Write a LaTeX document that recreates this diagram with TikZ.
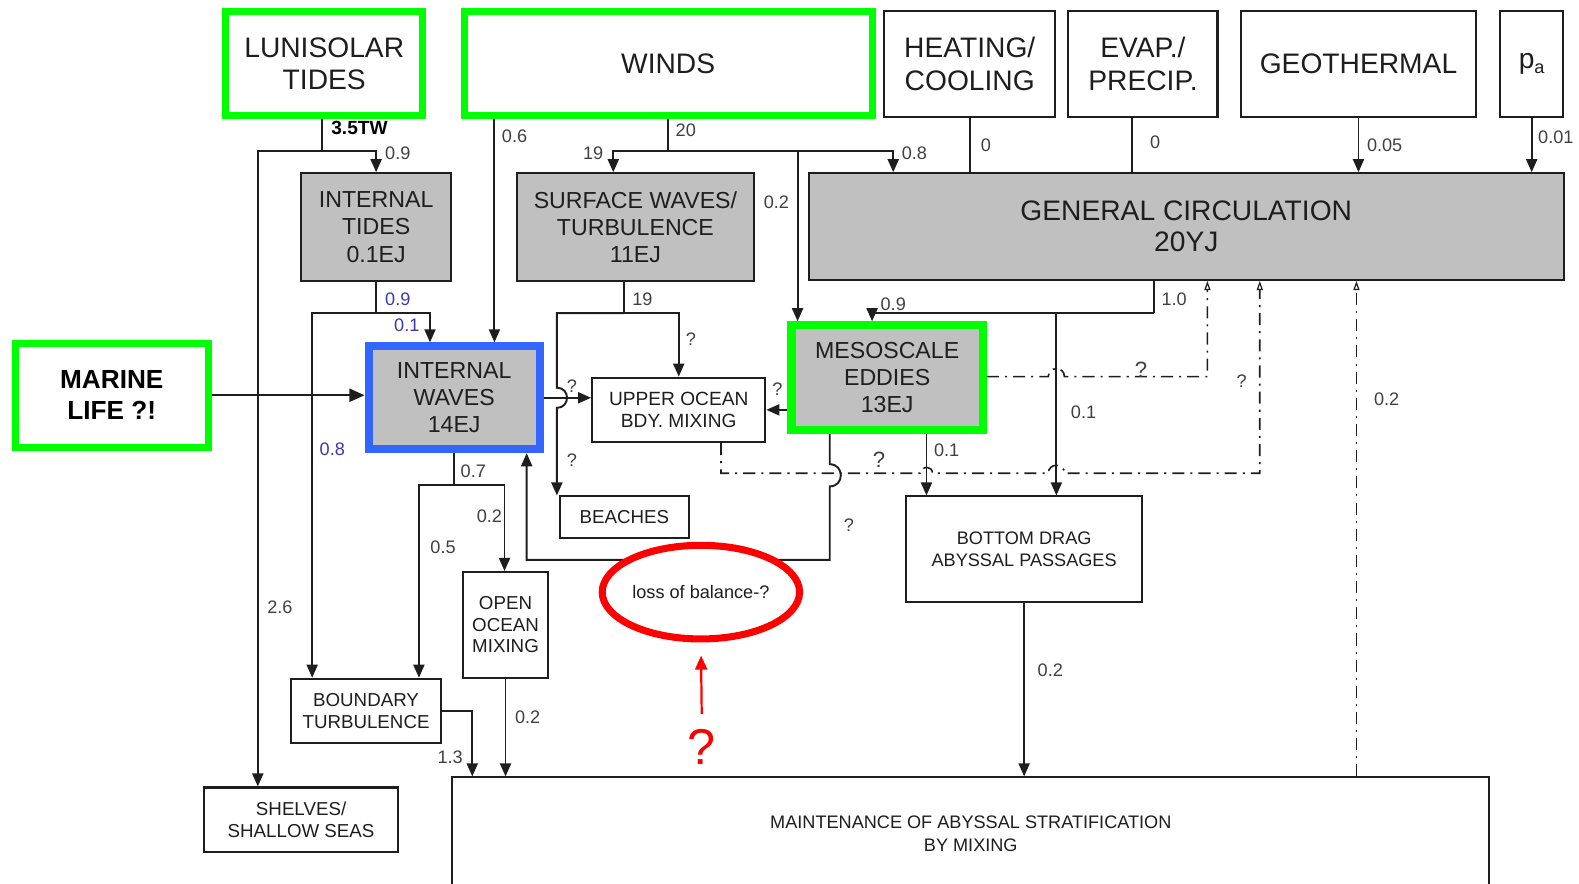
\documentclass[tikz,border=0pt]{standalone}
\usepackage{fontspec}
\setmainfont{Liberation Sans}
\usetikzlibrary{arrows.meta, shapes.geometric}
\definecolor{boxgreen}{HTML}{00FF00}
\definecolor{boxblue}{HTML}{3366FF}
\definecolor{boxgray}{HTML}{C0C0C0}
\definecolor{inkgray}{HTML}{1E1E1E}
\definecolor{numgray}{HTML}{404040}
\definecolor{numblue}{HTML}{3A3AAA}

\begin{document}
\begin{tikzpicture}[
  x=0.5pt, y=-0.5pt,
  whitebox/.style={draw=inkgray, line width=1pt, fill=white, align=center, inner sep=0pt, text=inkgray},
  graybox/.style={whitebox, fill=boxgray},
  greenbox/.style={whitebox, draw=boxgreen, line width=3.5pt},
  bluebox/.style={graybox, draw=boxblue, line width=4pt},
  fbig/.style={font=\fontsize{14}{16}\selectfont},
  fmid/.style={font=\fontsize{11.5}{13.5}\selectfont},
  fsmall/.style={font=\fontsize{9.3}{10.75}\selectfont},
  lbl/.style={font=\fontsize{9}{10}\selectfont, text=numgray, inner sep=0pt},
  bluelbl/.style={lbl, text=numblue},
  qlbl/.style={lbl, font=\fontsize{11}{12}\selectfont},
  link/.style={draw=inkgray, line width=0.95pt},
  arrow/.style={link, -{Triangle[length=6.5pt, width=5.5pt]}},
  guess/.style={draw=inkgray, line width=0.8pt, dash pattern=on 6pt off 3pt on 1pt off 3pt},
  guessarrow/.style={guess, -{Triangle[open, length=4.5pt, width=3pt, line width=0.6pt]}}
]
\useasboundingbox (0,0) rectangle (1568,877);

% sources
\node[greenbox, fbig, minimum width=98pt, minimum height=52pt] (lunisolar) at (322,63) {LUNISOLAR\\TIDES};
\node[greenbox, fbig, minimum width=202.5pt, minimum height=52pt] (winds) at (663.5,63) {WINDS};
\node[whitebox, fbig, minimum width=85pt, minimum height=52.5pt] (heating) at (963,63.5) {HEATING/\\COOLING};
\node[whitebox, fbig, minimum width=74pt, minimum height=52.5pt] (evap) at (1135,63.5) {EVAP./\\PRECIP.};
\node[whitebox, fbig, minimum width=117pt, minimum height=52.5pt] (geo) at (1349,63.5) {GEOTHERMAL};
\node[whitebox, fbig, minimum width=31pt, minimum height=52.5pt] (patm) at (1521,63.5) {p\raisebox{-0.3ex}{\fontsize{9}{9}\selectfont a}};
\node[greenbox, font=\fontsize{13}{15.5}\selectfont\bfseries, text=black, minimum width=96pt, minimum height=51.5pt] (marine) at (111,392.5) {MARINE\\LIFE ?!};

% reservoirs
\node[graybox, fmid, minimum width=74.5pt, minimum height=53.5pt] (itides) at (373.5,225.5) {INTERNAL\\TIDES\\0.1EJ};
\node[graybox, fmid, minimum width=118pt, minimum height=53.5pt] (swaves) at (631,225.5) {SURFACE WAVES/\\TURBULENCE\\11EJ};
\node[graybox, font=\fontsize{14}{15.5}\selectfont, minimum width=375pt, minimum height=53pt] (gc) at (1178,225) {GENERAL CIRCULATION\\20YJ};
\node[bluebox, fmid, minimum width=85pt, minimum height=51pt] (iwaves) at (451,395) {INTERNAL\\WAVES\\14EJ};
\node[graybox, fmid, draw=boxgreen, line width=4pt, minimum width=95pt, minimum height=52pt] (meso) at (881,375) {MESOSCALE\\EDDIES\\13EJ};

% sinks
\node[whitebox, font=\fontsize{9.5}{10.75}\selectfont, minimum width=86pt, minimum height=32pt] (upper) at (674,407) {UPPER OCEAN\\BDY. MIXING};
\node[whitebox, fsmall, minimum width=64pt, minimum height=20.5pt] (beaches) at (620,513.5) {BEACHES};
\node[whitebox, font=\fontsize{9}{11}\selectfont, minimum width=117pt, minimum height=52.5pt] (bdrag) at (1017,545.5) {BOTTOM DRAG\\ABYSSAL PASSAGES};
\node[whitebox, fsmall, minimum width=42pt, minimum height=52.5pt] (openocean) at (502,620.5) {OPEN\\OCEAN\\MIXING};
\node[whitebox, fsmall, minimum width=74.5pt, minimum height=32pt] (bturb) at (363.5,706) {BOUNDARY\\TURBULENCE};
\node[whitebox, fsmall, minimum width=96pt, minimum height=32pt] (shelves) at (299,814) {SHELVES/\\SHALLOW SEAS};
\node[whitebox, font=\fontsize{9}{11}\selectfont, minimum width=515pt, minimum height=56pt] (maint) at (964,828) {MAINTENANCE OF ABYSSAL STRATIFICATION\\BY MIXING};

% lunisolar tides
\coordinate (tj) at (320,150);
\coordinate (tjL) at (256,150);
\draw[link] (tj |- lunisolar.south) -- (tj);
\draw[arrow] (tj) -| (itides.north);
\draw[arrow] (tj) -- (tjL) -- (tjL |- shelves.north);

% internal tides
\coordinate (itj) at (373.5,311);
\coordinate (itjL) at (310,311);
\coordinate (itjR) at (427,311);
\draw[link] (itides.south) -- (itj);
\draw[arrow] (itj) -- (itjL) -- (itjL |- bturb.north);
\draw[arrow] (itj) -- (itjR) -- (itjR |- iwaves.north);

% winds
\coordinate (wdown) at (491,150);
\coordinate (wj) at (663.5,150);
\coordinate (wjL) at (609,150);
\coordinate (wjM) at (792,150);
\coordinate (wjR) at (887,150);
\draw[arrow] (wdown |- winds.south) -- (wdown |- iwaves.north);
\draw[link] (winds.south) -- (wj);
\draw[arrow] (wj) -- (wjL) -- (wjL |- swaves.north);
\draw[arrow] (wj) -- (wjR) -- (wjR |- gc.north);
\draw[arrow] (wjM) -- (wjM |- meso.north);

% other forcing
\coordinate (ev) at (1124,116);
\draw[link] (heating.south) -- (heating.south |- gc.north);
\draw[link] (ev |- evap.south) -- (ev |- gc.north);
\draw[arrow] (geo.south) -- (geo.south |- gc.north);
\draw[arrow] (patm.south) -- (patm.south |- gc.north);

% surface waves
\coordinate (sj) at (620,311);
\coordinate (sjL) at (553,311);
\coordinate (hopA) at (553,395);
\draw[link] (sj |- swaves.south) -- (sj);
\draw[arrow] (sj) -| (upper.north);
\draw[arrow] (sj) -- (sjL) -- ([yshift=5pt]hopA) .. controls +(6.7pt,0) and +(6.7pt,0) .. ([yshift=-5pt]hopA) -- (hopA |- beaches.north);

% into internal waves / upper ocean
\draw[arrow, -{Triangle[length=7.5pt, width=6.5pt]}] (marine.east) -- (marine.east -| iwaves.west);
\draw[arrow] (iwaves.east) -- (iwaves.east -| upper.west);
\draw[arrow] (meso.west |- upper.east) -- (upper.east);

% general circulation
\coordinate (gj) at (1146,311);
\coordinate (gjL) at (866,311);
\coordinate (gjM) at (1049,311);
\draw[link] (gj |- gc.south) -- (gj);
\draw[arrow] (gj) -- (gjL) -- (gjL |- meso.north);
\draw[arrow] (gjM) -- (gjM |- bdrag.north);

% mesoscale eddies
\coordinate (mR) at (920,431);
\coordinate (mL) at (824,556);
\coordinate (hopB) at (824,472);
\coordinate (back) at (523,556);
\draw[arrow] (mR |- meso.south) -- (mR |- bdrag.north);
\draw[arrow] (mL |- meso.south) -- ([yshift=5.5pt]hopB) .. controls +(7.3pt,0) and +(7.3pt,0) .. ([yshift=-5.5pt]hopB) -- (mL) -- (back) -- (back |- iwaves.south);

% internal waves
\coordinate (iwj) at (451,482);
\coordinate (iwjL) at (416,482);
\coordinate (iwjR) at (501,482);
\draw[link] (iwaves.south) -- (iwj);
\draw[arrow] (iwj) -- (iwjL) -- (iwjL |- bturb.north);
\draw[arrow] (iwj) -- (iwjR) -- (iwjR |- openocean.north);

% abyssal mixing
\coordinate (bt) at (469,706);
\draw[arrow] (openocean.south) -- (openocean.south |- maint.north);
\draw[arrow] (bturb.east) -- (bt) -- (bt |- maint.north);
\draw[arrow] (bdrag.south) -- (bdrag.south |- maint.north);

% uncertain returns
\coordinate (d0) at (1347,772);
\coordinate (d1) at (1199,374);
\coordinate (hopC) at (1049,374);
\coordinate (d2s) at (716,470);
\coordinate (hopD) at (920,470);
\coordinate (hopE) at (1049,470);
\coordinate (d2) at (1251,470);
\draw[guessarrow] (d0 |- maint.north) -- (d0 |- gc.south);
\draw[guessarrow] (meso.east |- d1) -- ([xshift=-4pt]hopC) .. controls +(0,5.3pt) and +(0,5.3pt) .. ([xshift=4pt]hopC) -- (d1) -- (d1 |- gc.south);
\draw[guessarrow] (d2s |- upper.south) -- (d2s) -- ([xshift=-3pt]hopD) .. controls +(0,4pt) and +(0,4pt) .. ([xshift=3pt]hopD) -- ([xshift=-4pt]hopE) .. controls +(0,5.3pt) and +(0,5.3pt) .. ([xshift=4pt]hopE) -- (d2) -- (d2 |- gc.south);

% loss of balance
\node[ellipse, draw=red, fill=white, line width=3.5pt, minimum width=98pt, minimum height=46.5pt, inner sep=0pt, font=\fontsize{9}{10}\selectfont, text=inkgray] (loss) at (696,588) {loss of balance-?};
\node[text=red, font=\fontsize{25}{25}\selectfont, inner sep=0pt] (qmark) at (697,742) {?};
\draw[draw=red, line width=1.1pt, -{Triangle[length=7pt, width=6pt]}, shorten <=7.5pt, shorten >=6.5pt] (qmark.north) -- (loss.south);

% flow values
\node[lbl, font=\fontsize{9.5}{10}\selectfont\bfseries, text=black] (tw) at (357,127) {3.5TW};
\node[lbl] (n1) at (395,152) {0.9};
\node[lbl] (n2) at (278,603) {2.6};
\node[lbl] (n3) at (511,135) {0.6};
\node[lbl] (n4) at (681,129) {20};
\node[lbl] (n5) at (589,152) {19};
\node[lbl] (n6) at (771,201) {0.2};
\node[lbl] (n7) at (908,152) {0.8};
\node[lbl] (n8) at (979,144) {0};
\node[lbl] (n9) at (1147,141) {0};
\node[lbl] (n10) at (1375,144) {0.05};
\node[lbl] (n11) at (1545,136) {0.01};
\node[bluelbl] (b1) at (395,297) {0.9};
\node[bluelbl] (b2) at (404,323) {0.1};
\node[bluelbl] (b3) at (330,446) {0.8};
\node[lbl] (n12) at (638,297) {19};
\node[lbl] (n13) at (887,302) {0.9};
\node[lbl] (n14) at (1166,297) {1.0};
\node[lbl] (n15) at (1076,409) {0.1};
\node[lbl] (n16) at (1377,396) {0.2};
\node[lbl] (n17) at (940,447) {0.1};
\node[lbl] (n18) at (470,468) {0.7};
\node[lbl] (n19) at (486,513) {0.2};
\node[lbl] (n20) at (440,543) {0.5};
\node[lbl] (n21) at (524,712) {0.2};
\node[lbl] (n22) at (447,752) {1.3};
\node[lbl] (n23) at (1043,666) {0.2};
\node[lbl] (q1) at (686,337) {?};
\node[lbl] (q2) at (568,383) {?};
\node[lbl] (q3) at (772,386) {?};
\node[lbl] (q4) at (568,457) {?};
\node[qlbl] (q5) at (1133,367) {?};
\node[lbl] (q6) at (1233,379) {?};
\node[qlbl] (q7) at (873,457) {?};
\node[lbl] (q8) at (843,522) {?};
\end{tikzpicture}
\end{document}
